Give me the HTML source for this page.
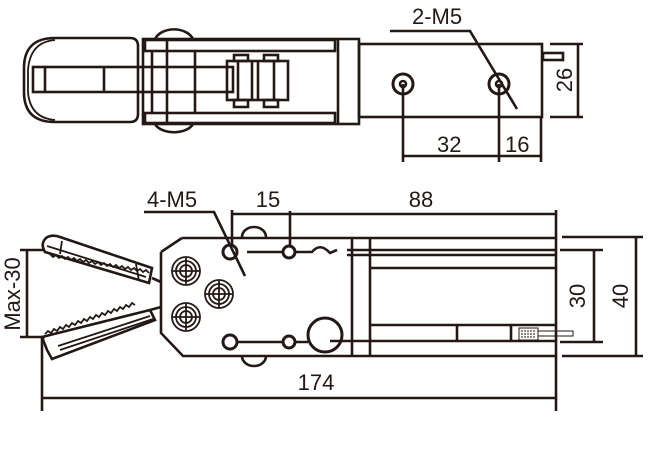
<!DOCTYPE html>
<html><head><meta charset="utf-8"><style>html,body{margin:0;padding:0;background:#fff}svg{display:block}</style></head>
<body>
<svg width="650" height="450" viewBox="0 0 650 450" xmlns="http://www.w3.org/2000/svg" font-family="Liberation Sans, sans-serif" fill="none" stroke="#231815" stroke-width="2.6">
<!-- TOP VIEW -->
<path d="M55 38 H130 Q138 38 138 46 V114 Q138 122 130 122 H55 Q24 122 24 92 V68 Q24 38 55 38 Z"/>
<path d="M55 40 Q30 42 28 70 V92 Q30 118 55 120" stroke-width="1.8"/>
<rect x="33" y="67" width="200" height="25"/>
<line x1="45" y1="67" x2="45" y2="92"/><line x1="104" y1="67" x2="104" y2="92"/>
<path d="M155 39 A20 14 0 0 1 193 39"/><path d="M155 124 A20 12 0 0 0 193 124"/>
<rect x="143" y="39" width="216" height="85"/>
<rect x="145" y="40" width="190" height="11"/><rect x="145" y="113" width="190" height="10"/>
<line x1="338" y1="40" x2="338" y2="123"/>
<line x1="152" y1="51" x2="152" y2="113"/><line x1="167" y1="40" x2="167" y2="123"/><line x1="195" y1="51" x2="195" y2="113"/>
<rect x="227" y="61" width="61" height="39"/>
<line x1="238" y1="61" x2="238" y2="100"/><line x1="252" y1="61" x2="252" y2="100"/><line x1="258" y1="61" x2="258" y2="100"/><line x1="274" y1="61" x2="274" y2="100"/>
<rect x="234" y="55" width="14" height="6"/><rect x="264" y="55" width="14" height="6"/>
<rect x="234" y="100" width="14" height="7"/><rect x="264" y="100" width="14" height="7"/>
<rect x="359" y="44" width="183" height="73"/>
<rect x="543" y="53" width="20" height="7"/>
<circle cx="403" cy="84" r="10" stroke-width="3"/><circle cx="403" cy="84" r="3"/>
<circle cx="499" cy="84" r="10" stroke-width="3"/><circle cx="499" cy="84" r="3"/>
<path d="M390 31 H470 L517 109"/>
<line x1="403" y1="84" x2="403" y2="162"/><line x1="499" y1="84" x2="499" y2="162"/><line x1="541" y1="117" x2="541" y2="162"/>
<line x1="403" y1="156" x2="541" y2="156"/>
<line x1="550" y1="44" x2="583" y2="44"/><line x1="550" y1="117" x2="583" y2="117"/><line x1="578" y1="44" x2="578" y2="117"/>
<g fill="#231815" stroke="none" font-size="22">
<text x="412" y="24">2-M5</text>
<text x="437" y="152">32</text>
<text x="505" y="152">16</text>
<text transform="translate(572,80) rotate(-90)" text-anchor="middle">26</text>
</g>
<!-- BOTTOM VIEW -->
<path d="M242 237 A12 10 0 0 1 266 237"/><path d="M242 356 A12 10 0 0 0 266 356"/>
<path d="M182 238 H556 M161 252 L182 238 M161 252 V333 L183 356 H556"/>
<line x1="352" y1="237" x2="352" y2="356"/><line x1="370" y1="237" x2="370" y2="356"/>
<line x1="347" y1="250" x2="556" y2="250"/><line x1="347" y1="255" x2="556" y2="255"/><line x1="370" y1="268" x2="556" y2="268"/>
<line x1="370" y1="325" x2="556" y2="325"/><line x1="330" y1="341" x2="556" y2="341"/>
<line x1="457" y1="325" x2="457" y2="341"/><line x1="511" y1="325" x2="511" y2="341"/>
<rect x="519" y="328" width="19" height="12" stroke-width="1"/>
<path d="M521 331 h15 M521 334 h15 M521 337 h15" stroke-width="1" stroke-dasharray="2 1"/>
<rect x="538" y="331" width="35" height="5" stroke-width="1"/>
<line x1="556" y1="210" x2="556" y2="411"/>
<g stroke-width="1.8">
<circle cx="186" cy="271" r="14"/><circle cx="186" cy="271" r="10"/><circle cx="186" cy="271" r="6"/><path d="M186 258 V284 M173 271 H199"/>
<circle cx="219" cy="294" r="14"/><circle cx="219" cy="294" r="10"/><circle cx="219" cy="294" r="6"/><path d="M219 281 V307 M206 294 H232"/>
<circle cx="186" cy="317" r="14"/><circle cx="186" cy="317" r="10"/><circle cx="186" cy="317" r="6"/><path d="M186 304 V330 M173 317 H199"/>
</g>
<circle cx="230" cy="252" r="7" stroke-width="3"/><circle cx="289" cy="252" r="6" stroke-width="3"/>
<circle cx="230" cy="342" r="7" stroke-width="3"/><circle cx="289" cy="342" r="6" stroke-width="3"/>
<circle cx="325" cy="335" r="17" stroke-width="3"/>
<path d="M247 252 H283 M295 252 H312 Q320 242 330 253 L337 250"/>
<path d="M237 342 H283 M295 342 H308"/>
<path d="M144 212 H214 L245 276"/>
<line x1="232" y1="214" x2="556" y2="214"/>
<line x1="232" y1="210" x2="232" y2="245"/><line x1="290" y1="211" x2="290" y2="245"/>
<!-- jaws -->
<path d="M46 238 Q52 234 60 237 L152 268 L149 283 L45 252 Q40 244 46 238 Z"/>
<path d="M47 246 L146 277 M62 241 L60 254 M136 264 L139 281" stroke-width="1.8"/>
<path d="M50 254 l3 3 l3 -2 l3 3 l3 -2 l3 3 l3 -2 l3 3 l3 -2 l3 3 l3 -2 l3 3 l3 -2 l3 3 l3 -2 l3 3 l3 -2 l3 3 l3 -2 l3 3 l3 -2 l3 3 l3 -2 l3 3 l3 -2 l3 3 l3 -2 l3 3 l3 -2 l3 3 l3 -2 l3 3 l3 -2 l3 3" stroke-width="1.8"/>
<path d="M152 278 L161 282"/>
<path d="M42 337 L150 310 L155 320 L52 359 L47 350 Z"/>
<path d="M58 346 L150 316 M60 350 L153 319" stroke-width="1.8"/>
<path d="M45 334 l3 -3 l3 2 l3 -4 l3 2 l3 -4 l3 2 l3 -4 l3 2 l3 -4 l3 2 l3 -4 l3 2 l3 -4 l3 2 l3 -4 l3 2 l3 -4 l3 2 l3 -4 l3 2 l3 -4 l3 2 l3 -4 l3 2 l3 -4 l3 2 l3 -4 l3 2 l3 -4 l3 2" stroke-width="1.8"/>
<path d="M150 310 L161 307"/>
<line x1="27" y1="250" x2="27" y2="337"/><line x1="20" y1="250" x2="45" y2="250"/><line x1="20" y1="337" x2="45" y2="337"/>
<line x1="42" y1="337" x2="42" y2="411"/><line x1="42" y1="398" x2="556" y2="398"/>
<line x1="562" y1="237" x2="643" y2="237"/><line x1="562" y1="356" x2="643" y2="356"/><line x1="636" y1="237" x2="636" y2="356"/>
<line x1="560" y1="250" x2="603" y2="250"/><line x1="560" y1="342" x2="603" y2="342"/><line x1="594" y1="250" x2="594" y2="342"/>
<g fill="#231815" stroke="none" font-size="22">
<text x="147" y="207">4-M5</text>
<text x="268" y="207" text-anchor="middle">15</text>
<text x="421" y="207" text-anchor="middle">88</text>
<text x="316" y="390" text-anchor="middle">174</text>
<text transform="translate(585,296) rotate(-90)" text-anchor="middle">30</text>
<text transform="translate(628,296) rotate(-90)" text-anchor="middle">40</text>
<text transform="translate(20,294) rotate(-90)" text-anchor="middle">Max-30</text>
</g>
</svg>
</body></html>
